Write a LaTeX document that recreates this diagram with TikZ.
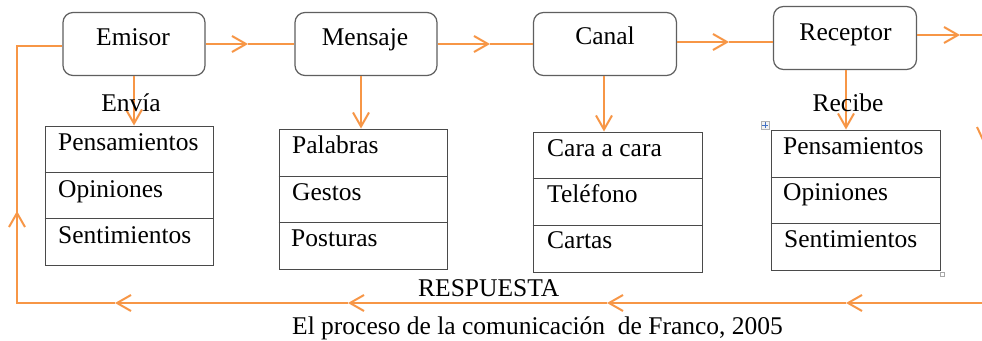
\documentclass[tikz,border=0pt]{standalone}
\usepackage{fontspec}
\setmainfont{Liberation Serif}
\usetikzlibrary{arrows.meta}
\definecolor{org}{HTML}{F79646}
\definecolor{bx}{HTML}{5F5F5F}
\definecolor{tb}{HTML}{4A4A4A}
\definecolor{hnd}{HTML}{4472C4}
\begin{document}
\begin{tikzpicture}[x=1pt,y=-1pt,
 ol/.style={draw=org, line width=2pt},
 arr/.style={ol, -{Straight Barb[length=14pt,width=16pt,line width=2pt]}},
 rbox/.style={draw=bx, line width=1.2pt, rounded corners=10pt, minimum width=142pt, minimum height=63pt, inner sep=0pt},
 tbl/.style={draw=tb, line width=1pt, minimum width=168pt, minimum height=139pt, inner sep=0pt},
 rowline/.style={draw=tb, line width=1pt},
 lbl/.style={font=\fontsize{25.5}{30}\selectfont, inner sep=0pt, anchor=base},
 cell/.style={lbl, anchor=base west}]
\useasboundingbox (0,0) rectangle (982,340);
\clip (0,0) rectangle (982,340);
\fill[white] (0,0) rectangle (982,340);

% rounded boxes
\node[rbox] (em) at (134,44) {};
\node[rbox] (ms) at (366,44) {};
\node[rbox, minimum width=143pt] (cn) at (605,44) {};
\node[rbox, minimum width=143pt] (rc) at (845,38) {};
\node[lbl] (emt) at (133,45) {Emisor};
\node[lbl] (mst) at (365,45) {Mensaje};
\node[lbl] (cnt) at (605,44) {Canal};
\node[lbl] (rct) at (845.5,40) {Receptor};

% tables
\node[tbl] (t1) at (129,195.5) {};
\node[tbl, minimum height=140pt] (t2) at (363,199) {};
\node[tbl, minimum width=169pt, minimum height=140pt] (t3) at (617.5,202) {};
\node[tbl, minimum width=169pt, minimum height=140pt] (t4) at (855.5,200) {};
\draw[rowline] (t1.west |- 0,172) -- (t1.east |- 0,172);
\draw[rowline] (t1.west |- 0,218) -- (t1.east |- 0,218);
\draw[rowline] (t2.west |- 0,176) -- (t2.east |- 0,176);
\draw[rowline] (t2.west |- 0,222) -- (t2.east |- 0,222);
\draw[rowline] (t3.west |- 0,178) -- (t3.east |- 0,178);
\draw[rowline] (t3.west |- 0,225) -- (t3.east |- 0,225);
\draw[rowline] (t4.west |- 0,177) -- (t4.east |- 0,177);
\draw[rowline] (t4.west |- 0,223) -- (t4.east |- 0,223);

\node[cell] (c11) at (58,150) {Pensamientos};
\node[cell] (c12) at (58,197) {Opiniones};
\node[cell] (c13) at (58,243) {Sentimientos};
\node[cell] (c21) at (292,153) {Palabras};
\node[cell] (c22) at (292,200) {Gestos};
\node[cell] (c23) at (291,246) {Posturas};
\node[cell] (c31) at (547,156) {Cara a cara};
\node[cell] (c32) at (547,202) {Teléfono};
\node[cell] (c33) at (547,248) {Cartas};
\node[cell] (c41) at (783,154) {Pensamientos};
\node[cell] (c42) at (783,200) {Opiniones};
\node[cell] (c43) at (784,247) {Sentimientos};

% down arrows
\draw[arr] (em.south) -- (em.south |- t1.north);
\draw[arr] ([xshift=-5pt]ms.south) -- ([xshift=-5pt]ms.south |- t2.north);
\draw[arr] ([xshift=-1pt]cn.south) -- ([xshift=-1pt]cn.south |- t3.north);
\draw[arr] ([xshift=1pt]rc.south) -- ([xshift=1pt]rc.south |- t4.north);
\node[lbl] (envia) at (131,111) {Envía};
\node[lbl] (recibe) at (848,111) {Recibe};

% horizontal arrows
\coordinate (h1) at (248,44);
\coordinate (h2) at (490,44);
\coordinate (h3) at (729,42);
\coordinate (h4) at (960,35);
\coordinate (hend) at (990,35);
\draw[arr] (em.east) -- (h1);
\draw[ol] (h1) -- (ms.west);
\draw[arr] (ms.east) -- (h2);
\draw[ol] (h2) -- (cn.west);
\draw[arr] (cn.east |- h3) -- (h3);
\draw[ol] (h3) -- (rc.west |- h3);
\draw[arr] (rc.east |- h4) -- (h4);
\draw[ol] (h4) -- (hend);

% partial arrow arm at right edge
\draw[ol] (977,127) -- (984,142);

% feedback loop
\coordinate (r0) at (990,303);
\coordinate (r1) at (846,303);
\coordinate (r2) at (607,303);
\coordinate (r3) at (348,303);
\coordinate (r4) at (115,303);
\coordinate (r5) at (17,303);
\coordinate (r6) at (17,211);
\coordinate (r7) at (17,46);
\draw[arr] (r0) -- (r1);
\draw[arr] (r1) -- (r2);
\draw[arr] (r2) -- (r3);
\draw[arr] (r3) -- (r4);
\draw[ol, line join=miter] (r4) -- (r5) -- (r6);
\draw[arr] (r5) -- (r6);
\draw[ol, line join=miter] (r6) -- (r7) -- (em.west |- r7);

\node[cell] (resp) at (418,296) {RESPUESTA};
\node[cell] (cap) at (292,334) {El proceso de la comunicación \ de Franco, 2005};

% table handles
\node[draw=gray!60, fill=gray!10, line width=0.4pt, minimum size=8pt, inner sep=0pt] (hd1) at (765,125) {};
\draw[hnd, line width=0.6pt] ([xshift=-3pt]hd1.center) -- ([xshift=3pt]hd1.center);
\draw[hnd, line width=0.6pt] ([yshift=-3pt]hd1.center) -- ([yshift=3pt]hd1.center);
\node[draw=gray!70, fill=white, line width=0.5pt, minimum size=4pt, inner sep=0pt] (hd2) at (942,274) {};
\end{tikzpicture}
\end{document}
